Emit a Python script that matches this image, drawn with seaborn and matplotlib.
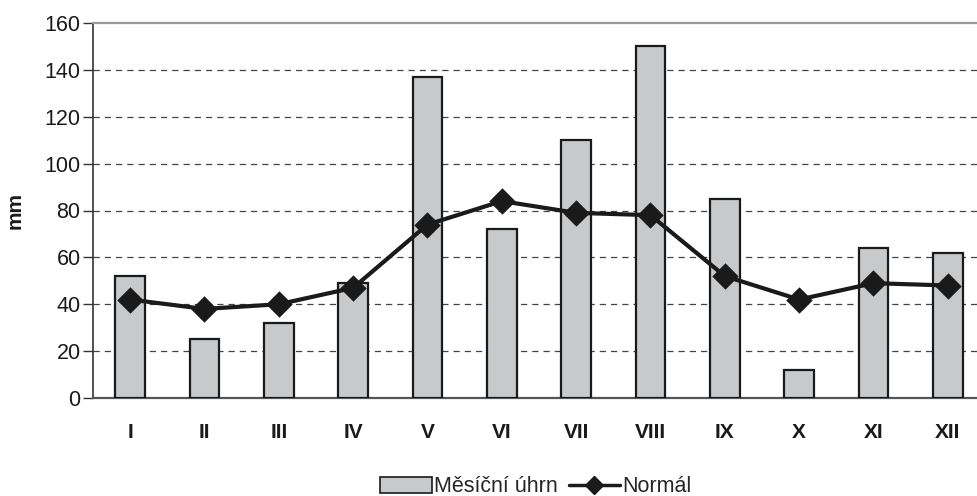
import matplotlib
matplotlib.use("Agg")
import matplotlib.pyplot as plt
import seaborn as sns
import pandas as pd
from matplotlib.patches import Patch
from matplotlib.lines import Line2D
from matplotlib.ticker import FixedLocator

months = ["I", "II", "III", "IV", "V", "VI", "VII", "VIII", "IX", "X", "XI", "XII"]
monthly_total = [52, 25, 32, 49, 137, 72, 110, 150, 85, 12, 64, 62]
normal = [42, 38, 40, 47, 74, 84, 79, 78, 52, 42, 49, 48]
y_ticks = [0, 20, 40, 60, 80, 100, 120, 140, 160]

df = pd.DataFrame({"month": months, "total": monthly_total, "normal": normal})

sns.set_theme(style="white")
plt.rcParams["font.family"] = ["Liberation Sans", "DejaVu Sans"]

FS = 15
fig = plt.figure(figsize=(9.78, 4.96), dpi=100)
ax = fig.add_axes([93 / 978, 1 - 398 / 496, (985 - 93) / 978, (398 - 23) / 496])

sns.barplot(data=df, x="month", y="total", order=months, color="#c8c9cb",
            saturation=1, width=0.4, edgecolor="#1a1a1a", linewidth=1.6, ax=ax, zorder=3)
sns.pointplot(data=df, x="month", y="normal", order=months, color="#1a1a1a",
              markers="D", linestyles="-", markersize=11, linewidth=3, ax=ax, zorder=4)

ax.set_xlim(-0.5, 11.5)
ax.set_ylim(0, 160)
ax.set_yticks(y_ticks)
ax.set_yticklabels([str(v) for v in y_ticks], fontsize=15.5, color="#1a1a1a")
ax.set_xticklabels(months, fontsize=FS, fontweight="bold", color="#1a1a1a")
ax.tick_params(axis="x", which="major", length=0, pad=18)
ax.xaxis.set_minor_locator(FixedLocator([i - 0.5 for i in range(len(months) + 1)]))
ax.tick_params(axis="x", which="minor", length=7, width=1, color="#333333", direction="inout")
ax.tick_params(axis="y", which="major", length=7, width=1, color="#333333", direction="out", pad=2, left=True)

for v in y_ticks[1:-1]:
    ax.axhline(v, color="#444444", linestyle=(0, (5, 4)), linewidth=0.9, zorder=1)

ax.set_xlabel("")
ax.set_ylabel("mm", fontsize=FS, fontweight="bold", labelpad=14, color="#1a1a1a")

ax.spines["right"].set_visible(False)
ax.spines["top"].set_color("#999999")
ax.spines["top"].set_linewidth(1.6)
ax.spines["left"].set_color("#333333")
ax.spines["left"].set_linewidth(1.2)
ax.spines["bottom"].set_color("#555555")
ax.spines["bottom"].set_linewidth(1.6)

handles = [Patch(facecolor="#c8c9cb", edgecolor="#1a1a1a", linewidth=1.2),
           Line2D([0], [0], color="#1a1a1a", linewidth=2.5, marker="D", markersize=9)]
fig.legend(handles, ["Měsíční úhrn", "Normál"], loc="center", bbox_to_anchor=(536 / 978, 1 - 487 / 496),
           ncol=2, frameon=False, fontsize=15.5, handlelength=2.4, handletextpad=0.1, columnspacing=0.5)

fig.savefig("out.png", dpi=100)
